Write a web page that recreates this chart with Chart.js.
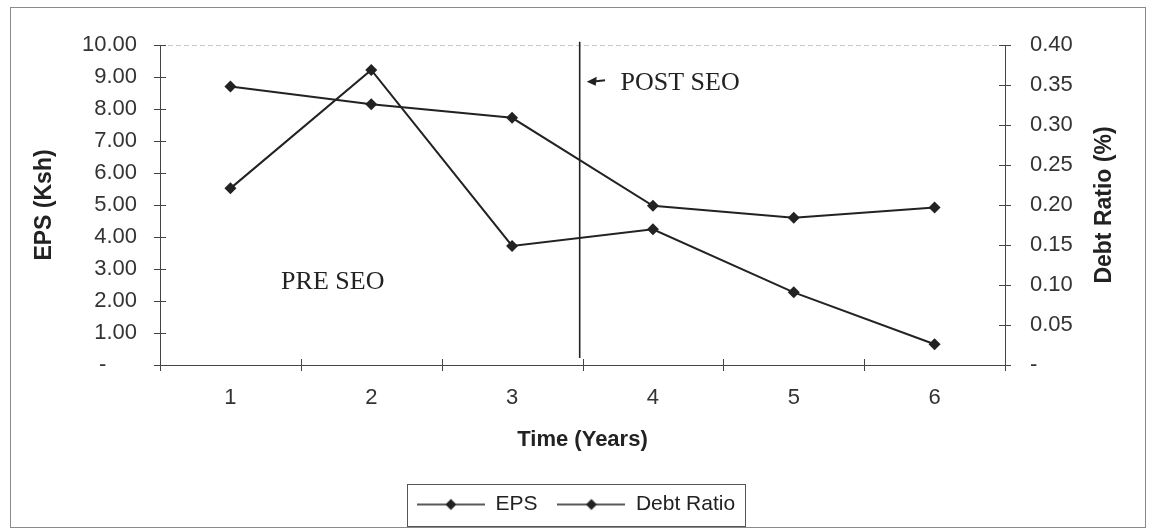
<!DOCTYPE html>
<html>
<head>
<meta charset="utf-8">
<script src="https://cdn.jsdelivr.net/npm/chart.js@4"></script>
<style>
  html, body { margin: 0; padding: 0; background: #fff; }
</style>
</head>
<body>
<canvas id="myChart" width="1152" height="532"></canvas>
<script>
// chart values
const years = ['1', '2', '3', '4', '5', '6'];
const eps = [5.52, 9.22, 3.72, 4.24, 2.27, 0.65];
const debtRatio = [0.348, 0.326, 0.309, 0.199, 0.184, 0.197];

Chart.defaults.font.family = '"Liberation Sans", Arial, sans-serif';
Chart.defaults.color = '#333';

// line + diamond sample used in the legend
function legendMark() {
  const c = document.createElement('canvas');
  c.width = 68; c.height = 14;
  const g = c.getContext('2d');
  g.strokeStyle = '#222';
  g.lineWidth = 1.5;
  g.beginPath(); g.moveTo(0, 7); g.lineTo(68, 7); g.stroke();
  g.fillStyle = '#222';
  g.beginPath(); g.moveTo(34, 1.5); g.lineTo(39.5, 7); g.lineTo(34, 12.5); g.lineTo(28.5, 7); g.closePath(); g.fill();
  return c;
}

// frame, cross ticks, SEO divider, notes, right title, legend box
const extras = {
  id: 'extras',
  afterDraw(chart) {
    const ctx = chart.ctx;
    const x = chart.scales.x, y = chart.scales.y, y1 = chart.scales.y1;
    const area = chart.chartArea;
    ctx.save();

    ctx.strokeStyle = '#8a8a8a';
    ctx.lineWidth = 1;
    ctx.strokeRect(10.5, 7.5, 1135, 520);

    // faint top line of the plot
    ctx.strokeStyle = 'rgba(0,0,0,0.22)';
    ctx.setLineDash([5, 3]);
    ctx.beginPath();
    ctx.moveTo(area.left, area.top + 0.5);
    ctx.lineTo(area.right, area.top + 0.5);
    ctx.stroke();
    ctx.setLineDash([]);

    // tick marks crossing the axes
    ctx.strokeStyle = '#444';
    ctx.beginPath();
    y.ticks.forEach(t => {
      const py = Math.round(y.getPixelForValue(t.value)) + 0.5;
      ctx.moveTo(area.left - 6, py); ctx.lineTo(area.left + 6, py);
    });
    y1.ticks.forEach(t => {
      const py = Math.round(y1.getPixelForValue(t.value)) + 0.5;
      ctx.moveTo(area.right - 6, py); ctx.lineTo(area.right + 6, py);
    });
    for (let i = 0; i <= years.length; i++) {
      const px = Math.round(x.getPixelForValue(i - 0.5)) + 0.5;
      ctx.moveTo(px, area.bottom - 6); ctx.lineTo(px, area.bottom + 6);
    }
    ctx.stroke();

    // pre / post SEO divider
    const dx = x.getPixelForValue(2.48);
    ctx.strokeStyle = '#222';
    ctx.lineWidth = 1.6;
    ctx.beginPath();
    ctx.moveTo(dx, y.getPixelForValue(10.1));
    ctx.lineTo(dx, y.getPixelForValue(0.22));
    ctx.stroke();

    // arrow pointing at the divider
    const ay = y.getPixelForValue(8.85);
    const ax0 = x.getPixelForValue(2.53), ax1 = x.getPixelForValue(2.66);
    ctx.lineWidth = 2;
    ctx.beginPath();
    ctx.moveTo(ax1, ay - 1.5); ctx.lineTo(ax0 + 5, ay);
    ctx.stroke();
    ctx.fillStyle = '#222';
    ctx.beginPath();
    ctx.moveTo(ax0, ay); ctx.lineTo(ax0 + 10, ay - 5); ctx.lineTo(ax0 + 9, ay + 4); ctx.closePath();
    ctx.fill();

    ctx.font = '26px "Liberation Serif", "Times New Roman", serif';
    ctx.fillStyle = '#222';
    ctx.textAlign = 'left';
    ctx.textBaseline = 'middle';
    ctx.fillText('POST SEO', x.getPixelForValue(2.77), y.getPixelForValue(8.8));
    ctx.fillText('PRE SEO', x.getPixelForValue(0.36), y.getPixelForValue(2.6));

    // right axis title reads bottom to top
    ctx.save();
    ctx.translate(y1.right - 47, (area.top + area.bottom) / 2);
    ctx.rotate(-Math.PI / 2);
    ctx.font = 'bold 23px "Liberation Sans", Arial, sans-serif';
    ctx.textAlign = 'center';
    ctx.fillText('Debt Ratio (%)', 0, 0);
    ctx.restore();

    // legend frame
    const hb = chart.legend.legendHitBoxes;
    if (hb && hb.length) {
      const last = hb[hb.length - 1];
      const l = hb[0].left - 10, r = last.left + last.width + 10;
      const cy = hb[0].top + hb[0].height / 2;
      ctx.strokeStyle = '#555';
      ctx.lineWidth = 1;
      ctx.strokeRect(Math.round(l) + 0.5, Math.round(cy - 21) + 0.5, Math.round(r - l), 42);
    }
    ctx.restore();
  }
};

const ctx = document.getElementById('myChart').getContext('2d');
const myChart = new Chart(ctx, {
  type: 'line',
  data: {
    labels: years,
    datasets: [
      {
        label: 'EPS',
        data: eps,
        yAxisID: 'y',
        borderColor: '#222',
        backgroundColor: '#222',
        borderWidth: 2,
        pointStyle: 'rectRot',
        pointRadius: 6,
        pointBorderWidth: 0,
        tension: 0
      },
      {
        label: 'Debt Ratio',
        data: debtRatio,
        yAxisID: 'y1',
        borderColor: '#222',
        backgroundColor: '#222',
        borderWidth: 2,
        pointStyle: 'rectRot',
        pointRadius: 6,
        pointBorderWidth: 0,
        tension: 0
      }
    ]
  },
  options: {
    responsive: false,
    animation: false,
    layout: { padding: { top: 45, bottom: 7, left: 0, right: 0 } },
    plugins: {
      tooltip: { enabled: false },
      legend: {
        position: 'bottom',
        labels: {
          usePointStyle: true,
          pointStyle: legendMark(),
          pointStyleWidth: 68,
          padding: 20,
          color: '#222',
          font: { size: 21 }
        }
      }
    },
    scales: {
      x: {
        offset: true,
        grid: { display: false, drawTicks: false },
        border: { display: true, color: '#444', width: 1 },
        ticks: { padding: 20, font: { size: 22 }, color: '#333' },
        title: {
          display: true,
          text: 'Time (Years)',
          color: '#222',
          font: { size: 22, weight: 'bold' },
          padding: { top: 0, bottom: 21 }
        },
        afterFit(scale) { scale.height = 109; }
      },
      y: {
        position: 'left',
        min: 0,
        max: 10,
        grid: { display: false, drawTicks: false },
        border: { display: true, color: '#444', width: 1 },
        ticks: {
          stepSize: 1,
          padding: 23,
          font: { size: 22 },
          color: '#333',
          callback: v => v === 0 ? '-     ' : v.toFixed(2)
        },
        title: {
          display: true,
          text: 'EPS (Ksh)',
          color: '#222',
          font: { size: 23, weight: 'bold' },
          padding: { top: 31, bottom: 0 }
        },
        afterFit(scale) { scale.width = 160; }
      },
      y1: {
        position: 'right',
        min: 0,
        max: 0.4,
        grid: { display: false, drawTicks: false },
        border: { display: true, color: '#444', width: 1 },
        ticks: {
          stepSize: 0.05,
          padding: 25,
          font: { size: 22 },
          color: '#333',
          callback: v => Math.abs(v) < 1e-9 ? '-' : v.toFixed(2)
        },
        afterFit(scale) { scale.width = 147; }
      }
    }
  },
  plugins: [extras]
});
</script>
</body>
</html>
